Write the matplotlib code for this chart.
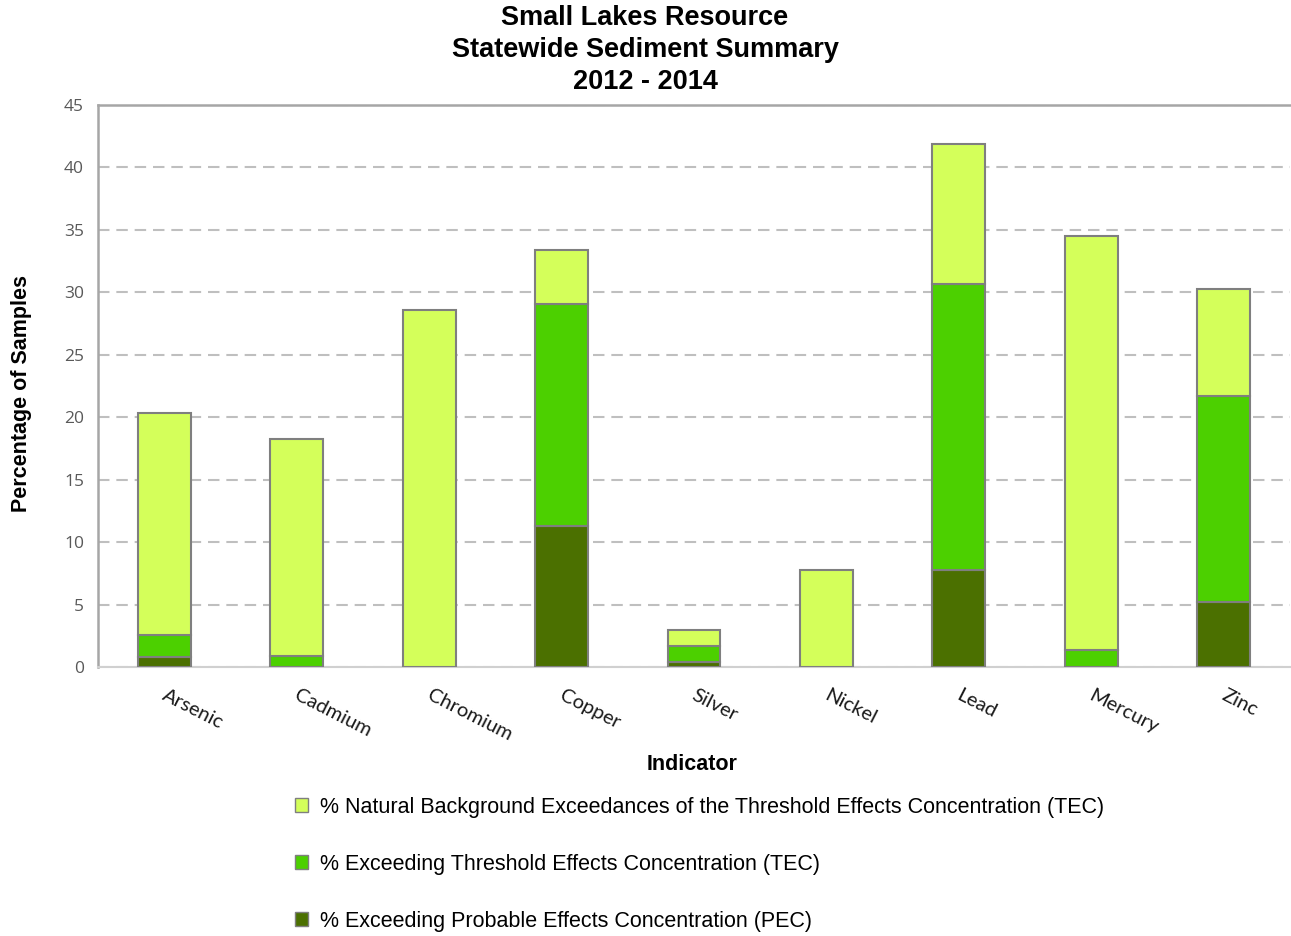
import matplotlib
matplotlib.use("Agg")
import matplotlib.pyplot as plt
import matplotlib.transforms as mtrans
import numpy as np
from matplotlib.patches import Patch

categories = ["Arsenic", "Cadmium", "Chromium", "Copper", "Silver", "Nickel", "Lead", "Mercury", "Zinc"]
# segment heights (stacked bottom to top)
pec = [0.8, 0.0, 0.0, 11.3, 0.4, 0.0, 7.8, 0.0, 5.2]
tec = [1.8, 0.87, 0.0, 17.8, 1.3, 0.0, 22.9, 1.35, 16.5]
natural = [17.7, 17.38, 28.6, 4.3, 1.3, 7.8, 11.2, 33.2, 8.6]
series_labels = [
    "% Natural Background Exceedances of the Threshold Effects Concentration (TEC)",
    "% Exceeding Threshold Effects Concentration (TEC)",
    "% Exceeding Probable Effects Concentration (PEC)",
]
yticks = [0, 5, 10, 15, 20, 25, 30, 35, 40, 45]

c_nat = "#D4FF5A"
c_tec = "#4CD000"
c_pec = "#4B7000"
edge = "#7F7F7F"

W, H = 1291, 936
fig = plt.figure(figsize=(W / 100, H / 100), dpi=100)
ax = fig.add_axes([98 / W, 1 - 667 / H, (1290 - 98) / W, (667 - 105) / H])

x = np.arange(len(categories))
bw = 0.4
pec_a = np.array(pec)
tec_a = np.array(tec)
nat_a = np.array(natural)
kw = dict(width=bw, edgecolor=edge, linewidth=1.5, zorder=3)
for i in range(len(x)):
    if pec_a[i] > 0:
        ax.bar(x[i], pec_a[i], color=c_pec, **kw)
    if tec_a[i] > 0:
        ax.bar(x[i], tec_a[i], bottom=pec_a[i], color=c_tec, **kw)
    if nat_a[i] > 0:
        ax.bar(x[i], nat_a[i], bottom=pec_a[i] + tec_a[i], color=c_nat, **kw)

ax.set_xlim(-0.5, len(categories) - 0.5)
ax.set_ylim(0, 45)
ax.set_yticks(yticks)
ax.yaxis.grid(True, color="#BFBFBF", linestyle=(0, (5.5, 3.3)), linewidth=1.5, zorder=0)
ax.set_axisbelow(True)
for s in ["left", "top"]:
    ax.spines[s].set_color("#A6A6A6")
    ax.spines[s].set_linewidth(1.8)
ax.spines["right"].set_visible(False)
ax.spines["bottom"].set_color("#D0D0D0")
ax.spines["bottom"].set_linewidth(1.5)
ax.tick_params(axis="y", length=0, pad=10, labelsize=12.5, labelcolor="#595959")
ax.tick_params(axis="x", length=0, pad=14)
for lab in ax.get_yticklabels():
    lab.set_family("Open Sans")

ax.set_xticks(x)
ax.set_xticklabels(categories, rotation=-27, ha="left", rotation_mode="anchor",
                   fontsize=14.5, family="Lato", color="#1a1a1a")
offset = mtrans.ScaledTranslation(3 / 100, 0, fig.dpi_scale_trans)
for lab in ax.get_xticklabels():
    lab.set_transform(lab.get_transform() + offset)

fig.text(645 / W, 1 - 50 / H, "Small Lakes Resource\nStatewide Sediment Summary\n2012 - 2014",
         ha="center", va="center", fontsize=19.5, fontweight="bold",
         family="Liberation Sans", linespacing=1.3)
fig.text(22 / W, 1 - 394 / H, "Percentage of Samples", rotation=90, ha="center", va="center",
         fontsize=15.5, fontweight="bold", family="Liberation Sans")
fig.text(692 / W, 1 - 764 / H, "Indicator", ha="center", va="center",
         fontsize=15.5, fontweight="bold", family="Liberation Sans")

handles = [Patch(facecolor=c, edgecolor=edge, linewidth=1) for c in (c_nat, c_tec, c_pec)]
leg = fig.legend(handles, series_labels, loc="upper left",
                 bbox_to_anchor=(286 / W, 1 - 788 / H), frameon=False,
                 prop={"family": "Liberation Sans", "size": 15.5},
                 handlelength=0.6, handleheight=0.6, handletextpad=0.6,
                 labelspacing=1.67, borderaxespad=0)

fig.savefig("out.png", dpi=100)
